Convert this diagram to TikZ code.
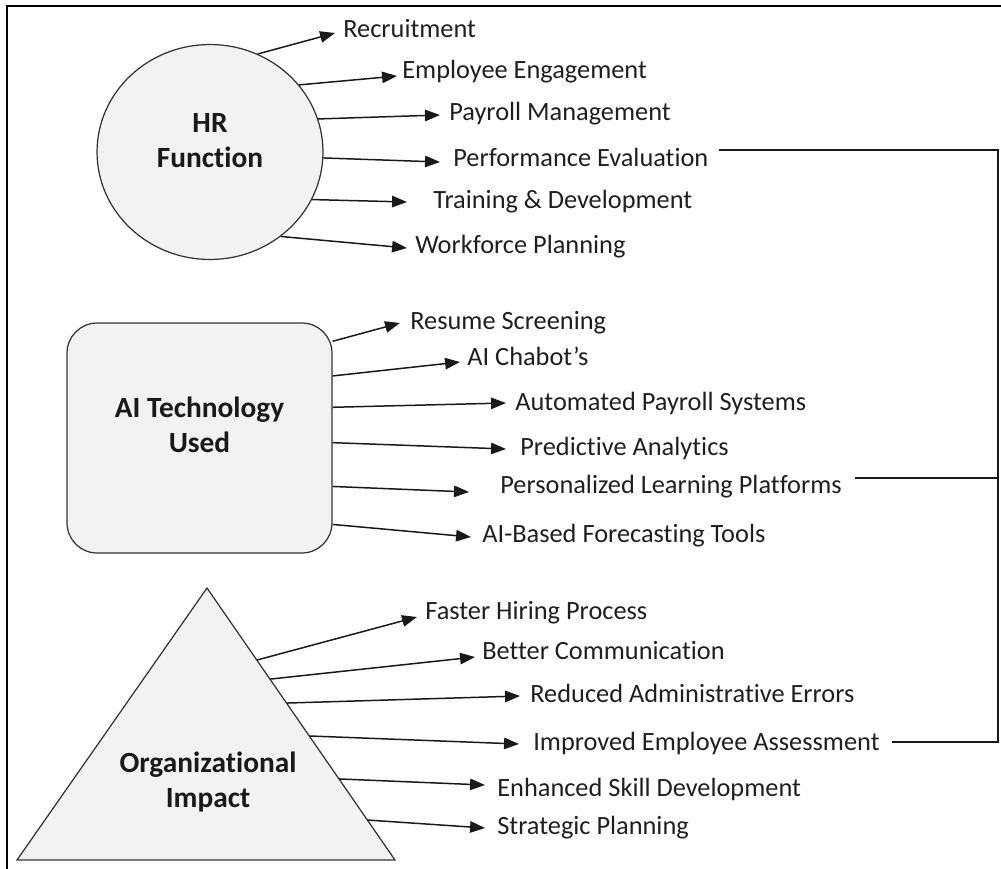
\documentclass[tikz,border=0pt]{standalone}
\usepackage{fontspec}
\setmainfont{Carlito}[RawFeature={-liga;-clig;-calt}]
\usetikzlibrary{arrows.meta,shapes.geometric,calc}

\tikzset{
  item/.style={anchor=west, inner sep=0pt, text height=0.85em, text depth=0pt,
    font=\fontsize{15}{18}\selectfont, text=black!88},
  title/.style={align=center, inner sep=0pt,
    font=\fontsize{16.7}{20}\selectfont\bfseries, text=black!90},
  shapefill/.style={draw=black!80, line width=0.7pt, fill=gray!10},
  feed/.style={-{Triangle[length=8.5pt,width=6.5pt]}, line width=0.85pt, black!90},
  link/.style={line width=0.85pt, black!90},
}

\begin{document}
\begin{tikzpicture}[x=0.02cm, y=-0.02cm]
    \useasboundingbox (0,0) rectangle (1001,869);
    % open frame, left and top only
    \draw[line width=1pt] (7,869) -- (7,6) -- (1001,6);

    % sources
    \node[ellipse, shapefill, minimum width=4.52cm, minimum height=4.3cm, inner sep=0pt] (hr) at (210,152) {};
    \node[title] (hrlbl) at (210,141) {HR\\Function};

    \node[rectangle, rounded corners=0.6cm, shapefill, minimum width=5.3cm, minimum height=4.6cm, inner sep=0pt] (ai) at (199.5,438) {};
    \node[title] (ailbl) at (199.5,425) {AI Technology\\Used};

    \coordinate (apex) at (207,588);
    \coordinate (baseL) at (17,860);
    \coordinate (baseR) at (395,860);
    \draw[shapefill] (apex) -- (baseL) -- (baseR) -- cycle;
    \node[title] (orglbl) at (208,782) {Organizational\\Impact};

    % HR functions
    \node[item] (rec) at (343,30) {Recruitment};
    \node[item] (eng) at (402,71) {Employee Engagement};
    \node[item] (pay) at (449,113) {Payroll Management};
    \node[item] (perf) at (453,159) {Performance Evaluation};
    \node[item] (train) at (433,201) {Training \& Development};
    \node[item] (work) at (415,246) {Workforce Planning};

    % AI tools
    \node[item] (res) at (410,322) {Resume Screening};
    \node[item] (chat) at (467,358) {AI Chabot’s};
    \node[item] (auto) at (515,403) {Automated Payroll Systems};
    \node[item] (pred) at (520,448) {Predictive Analytics};
    \node[item] (pers) at (500,486) {Personalized Learning Platforms};
    \node[item] (fore) at (482,535) {AI-Based Forecasting Tools};

    % impacts
    \node[item] (fast) at (425,612) {Faster Hiring Process};
    \node[item] (comm) at (482,652) {Better Communication};
    \node[item] (err) at (530,695) {Reduced Administrative Errors};
    \node[item] (assess) at (533,743) {Improved Employee Assessment};
    \node[item] (skill) at (497,789) {Enhanced Skill Development};
    \node[item] (plan) at (497,827) {Strategic Planning};

    \draw[feed] (hr.64) -- ([shift={(-8,3)}]rec.west);
    \draw[feed] (hr.37) -- ([shift={(-5,5)}]eng.west);
    \draw[feed] (hr.17) -- ([shift={(-9,2)}]pay.west);
    \draw[feed] (hr.-3) -- ([shift={(-13,3)}]perf.west);
    \draw[feed] (hr.-25) -- ([shift={(-26,1)}]train.west);
    \draw[feed] (hr.-50) -- ([shift={(-8,2)}]work.west);

    \draw[feed] (ai.36) -- ([shift={(-10,1)}]res.west);
    \draw[feed] (ai.25) -- ([shift={(-7,4)}]chat.west);
    \draw[feed] (ai.13) -- ([shift={(-9,0)}]auto.west);
    \draw[feed] (ai.-2) -- ([shift={(-14,1)}]pred.west);
    \draw[feed] (ai.-20) -- ([shift={(-31,6)}]pers.west);
    \draw[feed] (ai.-33) -- ([shift={(-11,2)}]fore.west);

    \draw[feed] ($(apex)!0.265!(baseR)$) -- ([shift={(-8,5)}]fast.west);
    \draw[feed] ($(apex)!0.335!(baseR)$) -- ([shift={(-7,5)}]comm.west);
    \draw[feed] ($(apex)!0.423!(baseR)$) -- ([shift={(-10,1)}]err.west);
    \draw[feed] ($(apex)!0.544!(baseR)$) -- ([shift={(-14,1)}]assess.west);
    \draw[feed] ($(apex)!0.702!(baseR)$) -- ([shift={(-12,-4)}]skill.west);
    \draw[feed] ($(apex)!0.853!(baseR)$) -- ([shift={(-12,1)}]plan.west);

    % bracket on the right
    \coordinate (railtop) at (998,150);
    \coordinate (railmid) at (998,478);
    \coordinate (railbot) at (998,742);
    \draw[link] ([shift={(10,-9)}]perf.east) -- (railtop) -- (railbot) -- ([shift={(12,-1)}]assess.east);
    \draw[link] ([shift={(13,-8)}]pers.east) -- (railmid);
\end{tikzpicture}
\end{document}
